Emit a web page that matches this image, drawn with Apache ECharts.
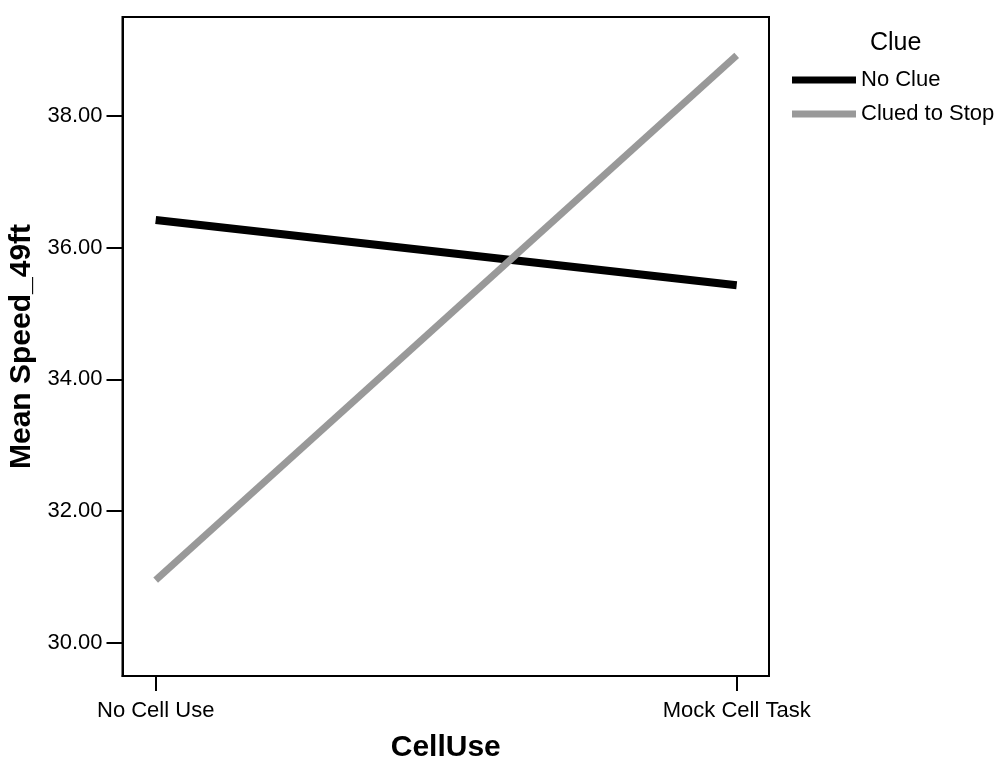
<!DOCTYPE html>
<html>
<head>
<meta charset="utf-8">
<script src="https://cdn.jsdelivr.net/npm/echarts@6/dist/echarts.min.js"></script>
<style>
  html, body { margin: 0; padding: 0; background: #fff; }
  #chart { width: 997px; height: 760px; }
</style>
</head>
<body>
<div id="chart"></div>
<script>
const categories = ['No Cell Use', 'Mock Cell Task'];
const noClue = [36.42, 35.43];
const cluedToStop = [30.95, 38.92];
const yTicks = [30, 32, 34, 36, 38];
const FONT = '"Liberation Sans", Arial, sans-serif';

const toPoints = (vals) => vals.map((v, i) => [i, v]);

const chart = echarts.init(document.getElementById('chart'));

chart.setOption({
  animation: false,
  title: {
    text: 'Clue',
    left: 865,
    top: 26,
    textStyle: { fontFamily: FONT, fontSize: 25, fontWeight: 'normal', color: '#000' }
  },
  legend: {
    orient: 'vertical',
    left: 787,
    top: 64,
    itemWidth: 64,
    itemHeight: 7,
    itemGap: 12,
    icon: 'rect',
    textStyle: { fontFamily: FONT, fontSize: 22, color: '#000', lineHeight: 22 },
    data: ['No Clue', 'Clued to Stop']
  },
  grid: {
    left: 122.5,
    right: 228,
    top: 17,
    bottom: 84,
    containLabel: false,
    outerBoundsMode: 'none',
    show: true,
    borderColor: '#000',
    borderWidth: 2
  },
  xAxis: {
    type: 'value',
    min: -0.0571,
    max: 1.0556,
    name: 'CellUse',
    nameLocation: 'middle',
    nameGap: 57,
    nameTextStyle: { fontFamily: FONT, fontSize: 30, fontWeight: 'bold', color: '#000' },
    splitLine: { show: false },
    axisLine: { onZero: false, lineStyle: { color: '#000', width: 2 } },
    axisTick: { length: 15, lineStyle: { color: '#000', width: 2 }, customValues: [0, 1] },
    axisLabel: {
      customValues: [0, 1],
      margin: 24,
      fontFamily: FONT, fontSize: 22, color: '#000',
      formatter: (v) => categories[Math.round(v)]
    }
  },
  yAxis: {
    type: 'value',
    min: 29.494,
    max: 39.504,
    name: 'Mean Speed_49ft',
    nameLocation: 'middle',
    nameGap: 86,
    nameTextStyle: { fontFamily: FONT, fontSize: 30, fontWeight: 'bold', color: '#000' },
    splitLine: { show: false },
    axisLine: { show: true, onZero: false, lineStyle: { color: '#000', width: 2 } },
    axisTick: { show: true, length: 16, lineStyle: { color: '#000', width: 2 }, customValues: yTicks },
    axisLabel: {
      customValues: yTicks,
      margin: 20,
      fontFamily: FONT, fontSize: 22, color: '#000',
      formatter: (v) => v.toFixed(2)
    }
  },
  series: [
    {
      name: 'No Clue',
      type: 'line',
      data: toPoints(noClue),
      symbol: 'none',
      color: '#000',
      lineStyle: { color: '#000', width: 8, cap: 'butt' }
    },
    {
      name: 'Clued to Stop',
      type: 'line',
      data: toPoints(cluedToStop),
      symbol: 'none',
      color: '#999',
      lineStyle: { color: '#999', width: 7, cap: 'butt' }
    }
  ]
});
</script>
</body>
</html>
